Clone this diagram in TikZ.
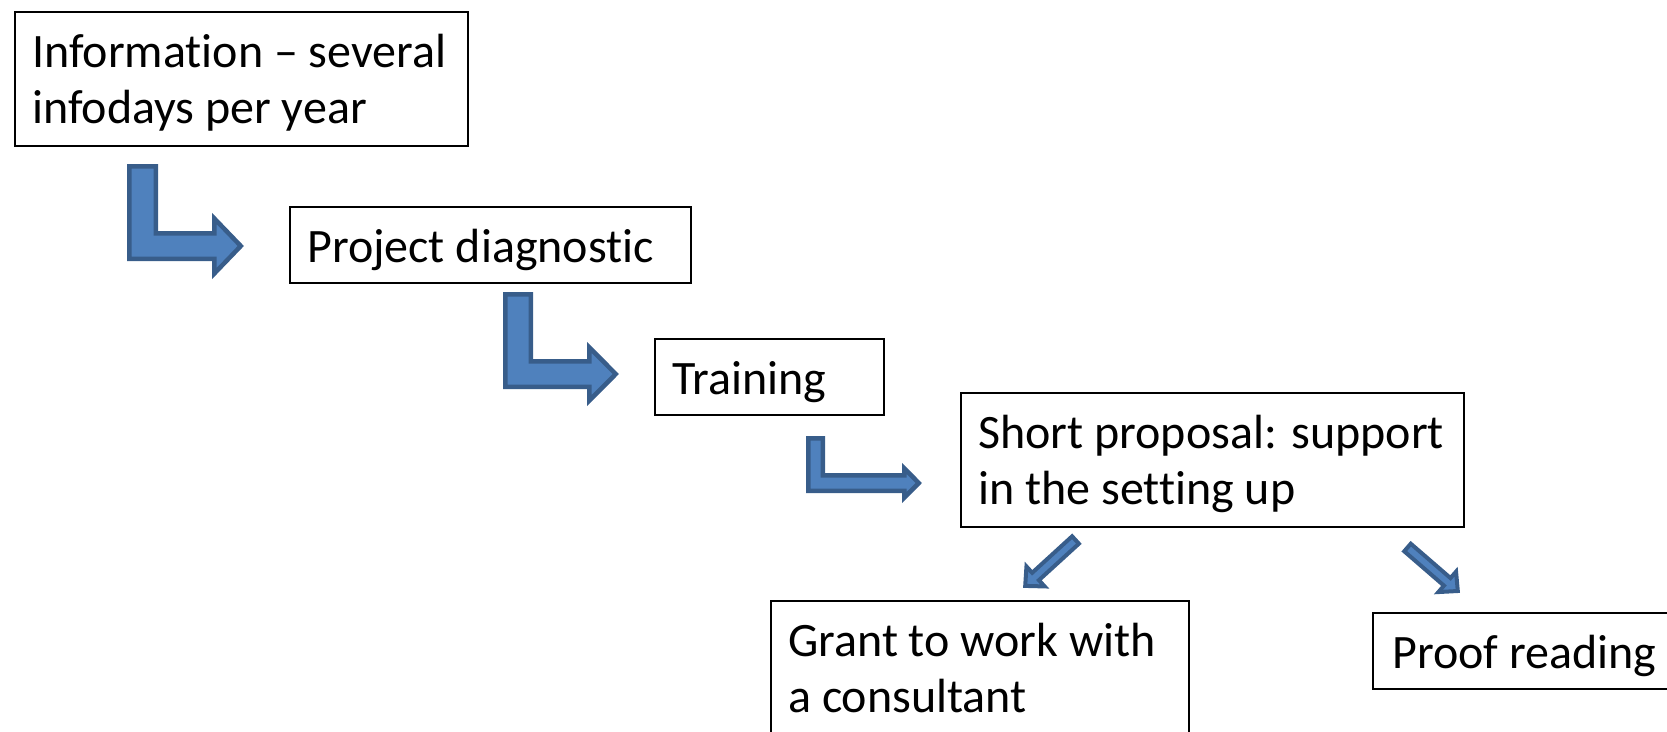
\documentclass[tikz,border=0pt]{standalone}
\usepackage{fontspec}
\setmainfont{Carlito}[Ligatures={NoCommon}]
\usetikzlibrary{calc}
\definecolor{arrfill}{HTML}{4F81BD}
\definecolor{arrdraw}{HTML}{385D8A}
\begin{document}
\begin{tikzpicture}[x=1pt,y=-1pt,
  box/.style={draw=black,line width=2pt,inner sep=0pt,anchor=north west},
  txt/.style={anchor=base west,inner sep=0pt,align=left,font=\fontsize{48}{56}\selectfont},
  bent/.style={fill=arrfill,draw=arrdraw,line width=4.5pt,line join=miter},
  diag/.style={fill=arrfill,draw=arrdraw,line width=4pt,line join=miter}]
\useasboundingbox (0,0) rectangle (1667,731);
% boxes
\node[box,minimum width=453pt,minimum height=134pt] (b1) at (14,11) {};
\node[box,minimum width=401pt,minimum height=76pt] (b2) at (289,206) {};
\node[box,minimum width=229pt,minimum height=76pt] (b3) at (654,338) {};
\node[box,minimum width=503pt,minimum height=134pt] (b4) at (960,392) {};
\node[box,minimum width=418pt,minimum height=134pt] (b5) at (770,600) {};
\node[box,minimum width=300pt,minimum height=76pt] (b6) at (1372,612) {};
% texts (base anchor = baseline of the last line)
\node[txt] (t1) at ($(b1.north west)+(18,112)$) {Information – several\\infodays per year};
\node[txt] (t2) at ($(b2.north west)+(18,56)$) {Project diagnostic};
\node[txt] (t3) at ($(b3.north west)+(18,56)$) {Training};
\node[txt] (t4) at ($(b4.north west)+(18,112)$) {Short proposal: support\\in the setting up};
\node[txt] (t5) at ($(b5.north west)+(18,112)$) {Grant to work with\\a consultant};
\node[txt] (t6) at ($(b6.north west)+(20,56)$) {Proof reading};
% bent arrows
\draw[bent] (129.25,166.25) -- (155.75,166.25) -- (155.75,233.25) -- (214.25,233.25) -- (214.25,218.4) -- (240.8,246) -- (214.25,273.6) -- (214.25,258.75) -- (129.25,258.75) -- cycle;
\draw[bent] (505.25,294.25) -- (530.75,294.25) -- (530.75,361.25) -- (589.25,361.25) -- (589.25,347.4) -- (615.8,374) -- (589.25,400.6) -- (589.25,386.75) -- (505.25,386.75) -- cycle;
\draw[bent] (808.25,438.25) -- (822.75,438.25) -- (822.75,475.25) -- (904.25,475.25) -- (904.25,468.4) -- (918.8,483) -- (904.25,497.6) -- (904.25,490.75) -- (808.25,490.75) -- cycle;
% diagonal arrows
\coordinate (a4s) at (1075.5,540);
\coordinate (a4t) at (1025.2,585.9);
\coordinate (a4h) at ($(a4t)!14pt!(a4s)$);
\draw[diag] ($(a4s)!5pt!90:(a4t)$) -- ($(a4h)!5pt!-90:(a4s)$) -- ($(a4h)!13.5pt!-90:(a4s)$) -- (a4t) -- ($(a4h)!13.5pt!90:(a4s)$) -- ($(a4h)!5pt!90:(a4s)$) -- ($(a4s)!5pt!-90:(a4t)$) -- cycle;
\coordinate (a5s) at (1407.5,547.5);
\coordinate (a5t) at (1457.8,591);
\coordinate (a5h) at ($(a5t)!14pt!(a5s)$);
\draw[diag] ($(a5s)!5pt!90:(a5t)$) -- ($(a5h)!5pt!-90:(a5s)$) -- ($(a5h)!13.5pt!-90:(a5s)$) -- (a5t) -- ($(a5h)!13.5pt!90:(a5s)$) -- ($(a5h)!5pt!90:(a5s)$) -- ($(a5s)!5pt!-90:(a5t)$) -- cycle;
\end{tikzpicture}
\end{document}
